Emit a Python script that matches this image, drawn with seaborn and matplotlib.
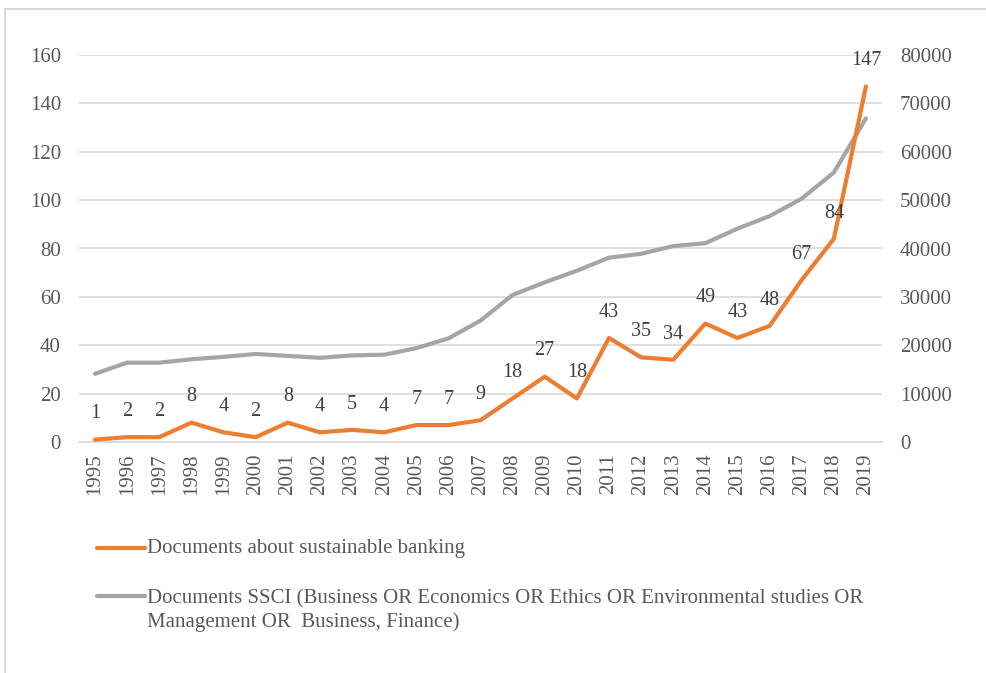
import pandas as pd
import seaborn as sns
import matplotlib.pyplot as plt
from matplotlib.lines import Line2D
from matplotlib.patches import Rectangle

# Datos
years = [str(y) for y in range(1995, 2020)]
banking_docs = [1, 2, 2, 8, 4, 2, 8, 4, 5, 4, 7, 7, 9, 18, 27, 18, 43, 35, 34, 49,
                43, 48, 67, 84, 147]
ssci_docs = [14100, 16400, 16400, 17100, 17600, 18200, 17800, 17400, 17900, 18050,
             19400, 21400, 25100, 30400, 33000, 35400, 38100, 38900, 40500, 41100,
             44100, 46700, 50300, 55700, 66900]
label_banking = "Documents about sustainable banking"
label_ssci = ("Documents SSCI (Business OR Economics OR Ethics OR Environmental studies OR\n"
              "Management OR  Business, Finance)")

ORANGE = "#ED7D31"
GRAY = "#A5A5A5"
TXT = "#595959"
GRID = "#D9D9D9"

df = pd.DataFrame({"year": years, "banking": banking_docs, "ssci": ssci_docs})
df["pos"] = range(len(df))

sns.set_style("white")
plt.rcParams["font.family"] = ["Liberation Serif", "DejaVu Serif"]

fig = plt.figure(figsize=(9.87, 6.73), dpi=100)
ax = fig.add_axes([79 / 987, 231 / 673, 803 / 987, 387 / 673])
ax2 = ax.twinx()

# Serie gris (eje derecho)
sns.lineplot(x="pos", y="ssci", data=df, ax=ax2, color=GRAY, linewidth=3.0,
             legend=False)
# Serie naranja (eje izquierdo)
sns.lineplot(x="pos", y="banking", data=df, ax=ax, color=ORANGE, linewidth=3.0,
             legend=False)

ax.set_zorder(ax2.get_zorder() + 1)
ax.patch.set_visible(False)

ax.set_xlim(-0.5, len(years) - 0.5)
ax.set_ylim(0, 160)
ax2.set_ylim(0, 80000)
ax.set_yticks(range(0, 161, 20))
ax2.set_yticks(range(0, 80001, 10000))
ax.set_xticks(df["pos"])
ax.set_xticklabels(years, rotation=90)

ax2.grid(True, axis="y", color=GRID, linewidth=1.2)
ax2.set_axisbelow(True)
for a in (ax, ax2):
    for s in a.spines.values():
        s.set_visible(False)
    a.set_xlabel("")
    a.set_ylabel("")
ax2.spines["bottom"].set_visible(True)
ax2.spines["bottom"].set_color(GRID)
ax2.spines["bottom"].set_linewidth(1.2)

ax.tick_params(axis="y", length=0, pad=13, labelsize=15, labelcolor=TXT)
ax2.tick_params(axis="y", length=0, pad=13, labelsize=15, labelcolor=TXT)
ax.tick_params(axis="x", length=0, pad=8, labelsize=15, labelcolor=TXT)

# Etiquetas de datos
for i, v in enumerate(banking_docs):
    ax.annotate(str(v), (i, v), xytext=(0, 18.5), textcoords="offset points",
                ha="center", va="center", fontsize=14.5, color="#404040")

# Leyenda manual
fig.add_artist(Line2D([97 / 987, 145 / 987], [1 - 548 / 673] * 2, color=ORANGE,
                      linewidth=3.0, solid_capstyle="round"))
fig.text(147 / 987, 1 - 548 / 673, label_banking, fontsize=15, color=TXT,
         va="center", ha="left")
fig.add_artist(Line2D([97 / 987, 145 / 987], [1 - 596 / 673] * 2, color=GRAY,
                      linewidth=3.0, solid_capstyle="round"))
fig.text(147 / 987, 1 - 589 / 673, label_ssci, fontsize=15, color=TXT,
         va="top", ha="left", linespacing=1.3)

# Borde del gráfico
fig.add_artist(Rectangle((5 / 987, -0.05), 1.0, 1.05 - 9 / 673, fill=False,
                         edgecolor=GRID, linewidth=1.5, transform=fig.transFigure))

plt.savefig("out.png", dpi=100)
plt.close()
